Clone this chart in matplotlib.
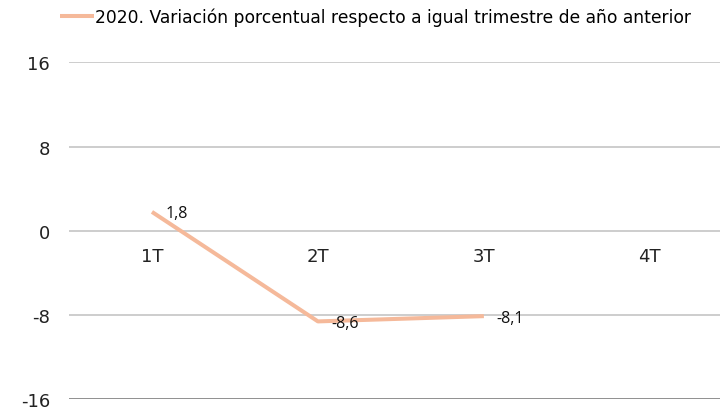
import matplotlib
matplotlib.use("Agg")
import matplotlib.pyplot as plt

# data
categories = ['1T', '2T', '3T', '4T']
values = [1.8, -8.6, -8.1]          # 4T has no value yet
value_labels = ['1,8', '-8,6', '-8,1']
series_name = '2020. Variación porcentual respecto a igual trimestre de año anterior'
yticks = [-16, -8, 0, 8, 16]

line_color = '#F5B99A'
grid_color = '#C0C0C0'
axis_color = '#8C8C8C'

plt.rcParams.update({'font.family': ['DejaVu Sans']})

fig = plt.figure(figsize=(7.2, 4.14), dpi=100)
# plot area runs a bit past the right edge of the picture, as in the source
ax = fig.add_axes([0.0958, 0.033, 0.922, 0.814])

x = list(range(len(categories)))
ax.plot(x[:len(values)], values, color=line_color, lw=2.9,
        solid_capstyle='butt', label=series_name, zorder=3)

ax.set_xlim(-0.5, len(categories) - 0.5)
ax.set_ylim(yticks[0], yticks[-1])
ax.set_yticks(yticks)
ax.set_yticklabels([str(v) for v in yticks], fontsize=13, color='#222222')
ax.tick_params(axis='y', length=0, pad=13.5)
ax.tick_params(axis='x', length=0, labelbottom=False)
ax.grid(axis='y', color=grid_color, lw=1.1)
ax.set_axisbelow(True)
for s in ax.spines.values():
    s.set_visible(False)
ax.axhline(yticks[0], color=axis_color, lw=1.3, zorder=1)

# category labels sit just below the zero line
for xi, c in zip(x, categories):
    ax.text(xi, -2.4, c, ha='center', va='center', fontsize=13, color='#222222')

# data labels
offsets = [(10, -1), (10, -1.5), (9, -1)]
for xi, v, lab, off in zip(x, values, value_labels, offsets):
    ax.annotate(lab, (xi, v), xytext=off, textcoords='offset points',
                ha='left', va='center', fontsize=11.5, color='#111111',
                family=['Open Sans', 'DejaVu Sans'])

leg = fig.legend(loc='center', bbox_to_anchor=(0.522, 0.958), frameon=False,
                 fontsize=12.3, handlelength=2.0, handletextpad=0.05)

fig.savefig('out.png', dpi=100)
